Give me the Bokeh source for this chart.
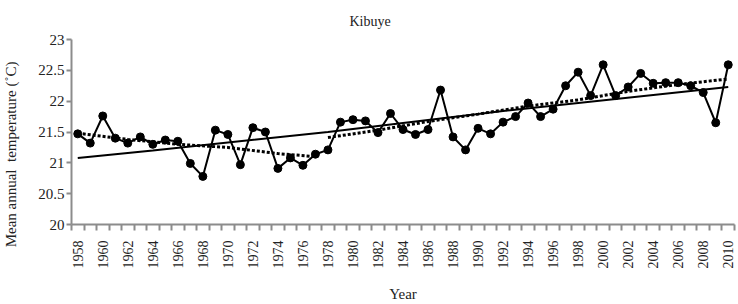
import math
from bokeh.plotting import figure
from bokeh.models import FixedTicker, Range1d
from bokeh.embed import file_html
from bokeh.resources import INLINE

years = list(range(1958, 2011))
temps = [21.47, 21.32, 21.76, 21.40, 21.32, 21.42, 21.30, 21.37, 21.35, 20.99,
         20.78, 21.53, 21.46, 20.97, 21.57, 21.50, 20.91, 21.08, 20.96, 21.14,
         21.21, 21.66, 21.70, 21.68, 21.49, 21.80, 21.54, 21.46, 21.54, 22.18,
         21.42, 21.21, 21.56, 21.47, 21.66, 21.75, 21.97, 21.75, 21.87, 22.25,
         22.47, 22.09, 22.59, 22.09, 22.23, 22.45, 22.29, 22.30, 22.30, 22.25,
         22.14, 21.65, 22.59]

trend_years = [1958, 1964, 1978, 1992, 2010]
trend_vals = [21.08, 21.20, 21.50, 21.84, 22.23]

dot1_years = [1958, 1962, 1966, 1970, 1974, 1977]
dot1_vals = [21.48, 21.38, 21.30, 21.25, 21.15, 21.10]
dot2_years = [1978, 1982, 1986, 1990, 1994, 1998, 2002, 2006, 2010]
dot2_vals = [21.41, 21.53, 21.67, 21.79, 21.92, 22.02, 22.16, 22.27, 22.36]

label_years = list(range(1958, 2011, 2))
y_ticks = [20, 20.5, 21, 21.5, 22, 22.5, 23]

FONT = "Liberation Serif"
GREY = "#8c8c8c"
TXT = "#222222"

p = figure(width=738, height=304, output_backend="svg", toolbar_location=None,
           x_range=Range1d(1957.5, 2010.5), y_range=Range1d(20, 23),
           title="Kibuye")
p.min_border_left = 71
p.min_border_right = 4
p.min_border_top = 0
p.min_border_bottom = 0
p.title.align = "left"
p.title.offset = 278
p.title.text_font = FONT
p.title.text_font_style = "normal"
p.title.text_font_size = "14px"
p.title.text_color = TXT
p.title.standoff = 22
p.xgrid.visible = False
p.ygrid.visible = False
p.outline_line_color = None
p.background_fill_color = "white"
p.border_fill_color = "white"

# x axis
xa = p.xaxis[0]
xa.ticker = FixedTicker(ticks=label_years,
                        minor_ticks=[y - 0.5 for y in range(1958, 2012)])
xa.major_tick_in = 0
xa.major_tick_out = 0
xa.minor_tick_in = 0
xa.minor_tick_out = 6
xa.minor_tick_line_color = GREY
xa.minor_tick_line_width = 2
xa.axis_line_color = GREY
xa.axis_line_width = 2
xa.major_label_orientation = math.pi / 2
xa.major_label_standoff = 10
xa.major_label_text_font = FONT
xa.major_label_text_font_size = "14px"
xa.major_label_text_color = TXT
xa.axis_label = "Year"
xa.axis_label_text_font = FONT
xa.axis_label_text_font_style = "normal"
xa.axis_label_text_font_size = "15px"
xa.axis_label_text_color = TXT
xa.axis_label_standoff = 14

# y axis
ya = p.yaxis[0]
ya.ticker = FixedTicker(ticks=y_ticks, minor_ticks=[])
ya.major_label_overrides = {t: ("%g" % t) for t in y_ticks}
ya.major_tick_in = 0
ya.major_tick_out = 5
ya.major_tick_line_color = GREY
ya.major_tick_line_width = 2
ya.axis_line_color = GREY
ya.axis_line_width = 2
ya.major_label_standoff = 2
ya.major_label_text_font = FONT
ya.major_label_text_font_size = "15px"
ya.major_label_text_color = TXT
# trailing no-break spaces shift the centred label downwards as in the original
ya.axis_label = "Mean annual\u00a0 temperature (\u02daC)" + "\u00a0" * 12
ya.axis_label_text_font = FONT
ya.axis_label_text_font_style = "normal"
ya.axis_label_text_font_size = "15px"
ya.axis_label_text_color = TXT
ya.axis_label_standoff = 16

# trend lines
p.line(trend_years, trend_vals, line_color="black", line_width=2)
p.line(dot1_years, dot1_vals, line_color="black", line_width=3, line_dash="3 2")
p.line(dot2_years, dot2_vals, line_color="black", line_width=3, line_dash="3 2")

# observed series
p.line(years, temps, line_color="black", line_width=2)
p.scatter(years, temps, size=8, fill_color="black", line_color="black")

open("out.html", "w").write(file_html(p, INLINE))
